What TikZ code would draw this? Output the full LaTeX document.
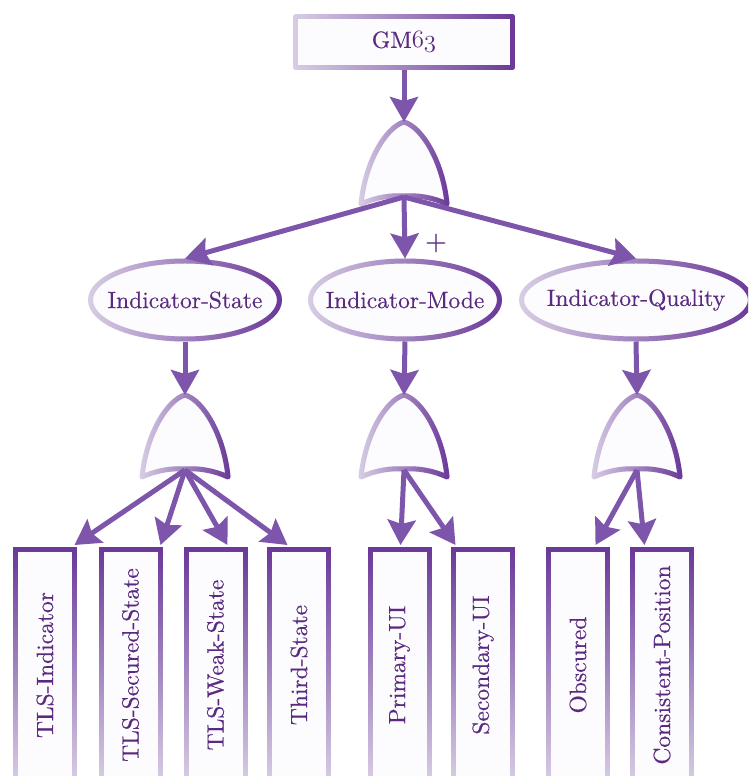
\documentclass[tikz,border=0pt]{standalone}
\usepackage{fontspec}
\setmainfont{lmroman10-regular.otf}
\newfontfamily\lblfont{lmroman10-regular.otf}[FakeBold=0.4]
\usetikzlibrary{arrows.meta,calc,fadings,shapes.geometric}
\definecolor{dk}{HTML}{6A3899}
\definecolor{lt}{HTML}{D8CEE5}
\definecolor{arr}{HTML}{7D55AA}
\definecolor{txt}{HTML}{5A2A80}
\definecolor{innerc}{HTML}{FCFBFD}
\tikzfading[name=fadeR, left color=transparent!100, right color=transparent!0]
\tikzfading[name=fadeT, top color=transparent!0, bottom color=transparent!100]
\newcommand{\osn}[1]{{\fontencoding{OML}\fontfamily{cmm}\fontseries{m}\fontshape{it}\selectfont #1}}
\tikzset{
  lbl/.style={text=txt, font=\lblfont\fontsize{23.5}{28}\selectfont},
  hgrad/.style={draw=lt, fill=innerc, line width=5pt, line join=round,
    postaction={draw=dk, line width=5pt, line join=round, path fading=fadeR}},
  vgrad/.style={draw=lt, fill=innerc, line width=5pt,
    postaction={draw=dk, line width=5pt, path fading=fadeT}},
  conn/.style={draw=arr, line width=5pt, -{Stealth[length=25pt,width=28pt,inset=4pt]}},
  ellbox/.style={hgrad, ellipse, inner sep=0pt, minimum height=78pt},
  leafbox/.style={vgrad, rectangle, inner sep=0pt, minimum width=59pt, minimum height=231pt, lbl},
  orgate/.pic={\path[hgrad] (-43,82) .. controls (-39,40) and (-18,5) .. (0,0)
      .. controls (18,5) and (39,40) .. (43,82)
      .. controls (28,75) and (12,73) .. (0,74)
      .. controls (-12,73) and (-28,75) .. cycle;}
}
\begin{document}
\begin{tikzpicture}[x=1pt,y=-1pt]
\useasboundingbox (0,0) rectangle (748,776);
\clip (0,0) rectangle (748,776);
\fill[white] (0,0) rectangle (748,776);

% top event
\node[hgrad, rectangle, minimum width=217pt, minimum height=51pt, inner sep=0pt, lbl] (gm) at (404,42) {GM\osn{63}};

% gates
\coordinate (g0) at (404,122);  \coordinate (g0b) at (404,197);
\coordinate (g1) at (185,395);  \coordinate (g1b) at (185,470);
\coordinate (g2) at (404,395);  \coordinate (g2b) at (404,470);
\coordinate (g3) at (637,395);  \coordinate (g3b) at (637,470);
\pic at (g0) {orgate};
\pic at (g1) {orgate};
\pic at (g2) {orgate};
\pic at (g3) {orgate};

% intermediate events
\node[ellbox, minimum width=189pt, label={[lbl]center:Indicator-State}] (is) at (185,300) {};
\node[ellbox, minimum width=189pt, label={[lbl]center:Indicator-Mode}] (im) at (405,300) {};
\node[ellbox, minimum width=229pt, label={[lbl]center:Indicator-Quality}] (iq) at (636,300) {};
\node[lbl, font=\lblfont\fontsize{28}{30}\selectfont] (plus) at (436,243) {+};

% leaves
\node[leafbox] (b1) at (45,665) {\rotatebox{90}{TLS-Indicator}};
\node[leafbox] (b2) at (130.5,665) {\rotatebox{90}{TLS-Secured-State}};
\node[leafbox] (b3) at (215.5,665) {\rotatebox{90}{TLS-Weak-State}};
\node[leafbox] (b4) at (299,665) {\rotatebox{90}{Third-State}};
\node[leafbox] (b5) at (399.5,665) {\rotatebox{90}{Primary-UI}};
\node[leafbox] (b6) at (483,665) {\rotatebox{90}{Secondary-UI}};
\node[leafbox] (b7) at (578,665) {\rotatebox{90}{Obscured}};
\node[leafbox] (b8) at (662,665) {\rotatebox{90}{Consistent-Position}};

% connectors
\draw[conn] (gm.south) -- (g0);
\draw[conn] (g0b) -- (is.north);
\draw[conn] (g0b) -- (im.north);
\draw[conn] (g0b) -- (iq.north);
\draw[conn] (is.south) -- (g1);
\draw[conn] (im.south) -- (g2);
\draw[conn] (iq.south) -- (g3);
\draw[conn] (g1b) -- ($(b1.north west)+(61.5,-2)$);
\draw[conn] (g1b) -- ($(b2.north west)+(62,-2)$);
\draw[conn] (g1b) -- ($(b3.north west)+(44,-2)$);
\draw[conn] (g1b) -- ($(b4.north west)+(20.5,-2)$);
\draw[conn] (g2b) -- ($(b5.north west)+(33,-2)$);
\draw[conn] (g2b) -- ($(b6.north west)+(4.5,-2)$);
\draw[conn] (g3b) -- ($(b7.north west)+(49.5,-2)$);
\draw[conn] (g3b) -- ($(b8.north west)+(14.5,-2)$);
\end{tikzpicture}
\end{document}
